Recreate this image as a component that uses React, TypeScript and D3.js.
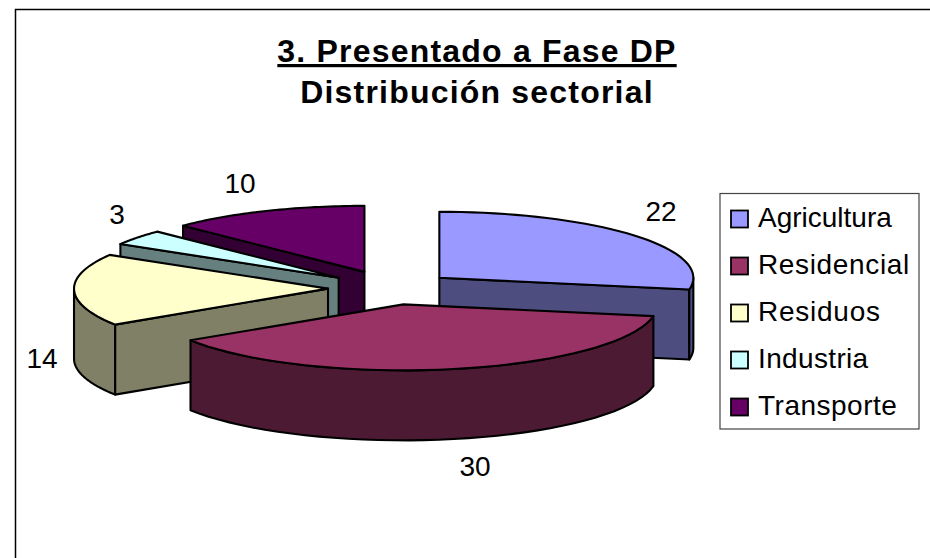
import React from "react";
import * as d3 from "d3";

const categories = ["Agricultura", "Residencial", "Residuos", "Industria", "Transporte"];
const values = [22, 30, 14, 3, 10];
const topColors = ["#9999ff", "#993366", "#ffffcc", "#ccffff", "#660066"];
const sideColors = ["#4d4d80", "#4d1a33", "#808066", "#668080", "#330033"];
// paint order, back to front
const drawOrder = [4, 3, 2, 0, 1];
const labelPositions: [number, number][] = [[661, 221], [475, 476], [42, 368], [117, 224], [240, 193]];
// the original text is hinted a bit wider than Liberation Sans
const legendSpacing = [0, 0.65, 0.75, 0.35, 0.5];
const explosion = [0.248, 0.248, 0.248, 0.26, 0.27];

const W = 930;
const H = 558;
const cx = 391;
const cy = 288.3;
const rx = 254;
const ry = 66;
const depth = 70;

const pieData = d3.pie<number>().sort(null)(values);

function Slice({ index }: { index: number }) {
  const { startAngle: a0, endAngle: a1 } = pieData[index];
  const mid = (a0 + a1) / 2;
  const ax = cx + explosion[index] * rx * Math.sin(mid);
  const ay = cy - explosion[index] * ry * Math.cos(mid);
  const pt = (a: number): [number, number] => [ax + rx * Math.sin(a), ay - ry * Math.cos(a)];
  const rim = (from: number, to: number) => d3.range(0, 41).map((i) => pt(from + ((to - from) * i) / 40));
  const drop = (p: [number, number]): [number, number] => [p[0], p[1] + depth];
  const poly = d3.line().curve(d3.curveLinearClosed);
  const apex: [number, number] = [ax, ay];

  const walls: [number, number][][] = [];
  if (Math.sin(a0) < -0.001) walls.push([apex, pt(a0), drop(pt(a0)), drop(apex)]);
  if (Math.sin(a1) > 0.001) walls.push([apex, pt(a1), drop(pt(a1)), drop(apex)]);
  const arcFrom = Math.max(a0, Math.PI / 2);
  const arcTo = Math.min(a1, (3 * Math.PI) / 2);
  if (arcTo > arcFrom) {
    const edge = rim(arcFrom, arcTo);
    walls.push([...edge, ...edge.slice().reverse().map(drop)]);
  }

  return (
    <g stroke="#000" strokeWidth={2.1} strokeLinejoin="round">
      {walls.map((w, i) => (
        <path key={i} d={poly(w) ?? ""} fill={sideColors[index]} />
      ))}
      <path d={poly([apex, ...rim(a0, a1)]) ?? ""} fill={topColors[index]} />
    </g>
  );
}

export default function App() {
  const font = "'Liberation Sans', Arial, sans-serif";
  const legendY = d3.scalePoint<string>().domain(categories).range([218.5, 406.5]);
  return (
    <svg
      width={W}
      height={H}
      viewBox={`0 0 ${W} ${H}`}
      style={{ position: "absolute", left: 0, top: 0, background: "#fff" }}
      fontFamily={font}
    >
      <path d={`M15.5 ${H} V9.5 H${W}`} fill="none" stroke="#000" strokeWidth={1.5} />

      <text x={477} y={62} textAnchor="middle" fontSize={32} fontWeight="bold" letterSpacing={1.2} textDecoration="underline">
        3. Presentado a Fase DP
      </text>
      <text x={477} y={103} textAnchor="middle" fontSize={32} fontWeight="bold" letterSpacing={1.2}>
        Distribución sectorial
      </text>

      {drawOrder.map((i) => (
        <Slice key={i} index={i} />
      ))}

      {values.map((v, i) => (
        <text key={i} x={labelPositions[i][0]} y={labelPositions[i][1]} textAnchor="middle" fontSize={28}>
          {v}
        </text>
      ))}

      <rect x={720} y={193.5} width={199} height={235.5} fill="#fff" stroke="#444" strokeWidth={1.2} />
      {categories.map((c, i) => {
        const y = legendY(c) ?? 0;
        return (
          <g key={c}>
            <rect x={731} y={y - 8} width={17} height={17} fill={topColors[i]} stroke="#000" strokeWidth={1.8} />
            <text x={758} y={y + 8} fontSize={28} letterSpacing={legendSpacing[i]}>
              {c}
            </text>
          </g>
        );
      })}
    </svg>
  );
}
